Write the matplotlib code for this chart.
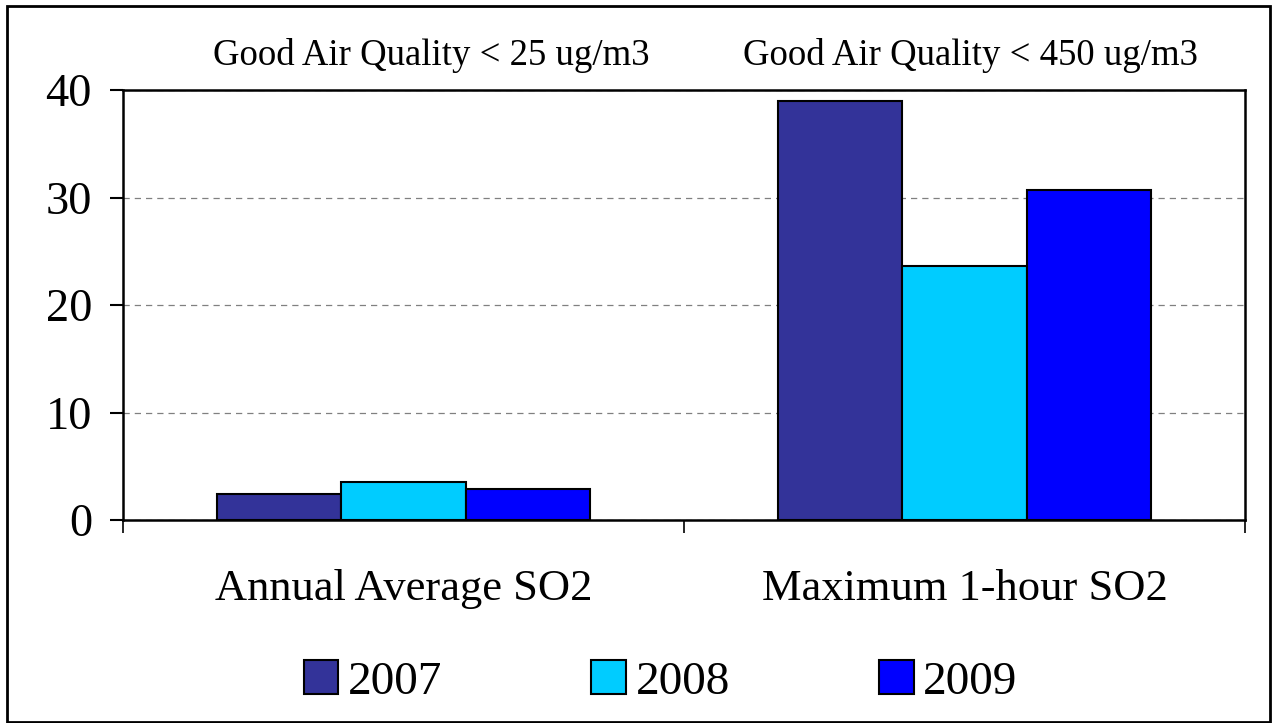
import numpy as np
import matplotlib
matplotlib.use('Agg')
import matplotlib.pyplot as plt
from matplotlib.patches import Rectangle

# donnees SO2
categories = ['Annual Average SO2', 'Maximum 1-hour SO2']
years = ['2007', '2008', '2009']
values_2007 = [2.4, 39.0]
values_2008 = [3.5, 23.6]
values_2009 = [2.85, 30.7]
limits = ['Good Air Quality < 25 ug/m3', 'Good Air Quality < 450 ug/m3']
colors = ['#333399', '#00CCFF', '#0000FF']

plt.rcParams['font.family'] = ['Liberation Serif', 'DejaVu Serif']

fig = plt.figure(figsize=(12.8, 7.23), dpi=100)
ax = fig.add_axes([123/1280, 1-520/723, (1245-123)/1280, (520-90)/723])

x = np.arange(len(categories))
w = 0.222
series = [values_2007, values_2008, values_2009]
for i, (vals, c, lab) in enumerate(zip(series, colors, years)):
    ax.bar(x + (i-1)*w, vals, width=w, color=c, edgecolor='black', linewidth=1.5, label=lab, zorder=3)

ax.set_xlim(-0.5, 1.5)
ax.set_ylim(0, 40)
ax.set_yticks([0, 10, 20, 30, 40])
ax.tick_params(axis='y', labelsize=33.5, length=9.4, width=1.5, direction='out', pad=13)
ax.set_xticks([-0.5, 0.5, 1.5])
ax.set_xticklabels(['', '', ''])
ax.tick_params(axis='x', length=9.4, width=1.2, direction='out')
for i, cat in enumerate(categories):
    ax.text(i, -6.4, cat, ha='center', va='center', fontsize=32, clip_on=False)
# les annotations sont un peu decalees par rapport au centre des categories
for xpos, t in zip([0.05, 1.01], limits):
    ax.text(xpos, 43.2, t, ha='center', va='center', fontsize=26.5, clip_on=False)

for s in ax.spines.values():
    s.set_linewidth(1.8)
ax.yaxis.grid(True, linestyle=(0, (5, 4)), color='#808080', linewidth=0.9, zorder=0)

ax.legend(loc='center', bbox_to_anchor=(0.479, -0.377), ncol=3, frameon=False, fontsize=34,
          handlelength=0.74, handleheight=0.72, handletextpad=0.2, columnspacing=3.15)

fig.add_artist(Rectangle((7/1280, 1-722/723), (1270-7)/1280, (722-6)/723, transform=fig.transFigure,
                         fill=False, edgecolor='black', linewidth=2))

fig.savefig('out.png', dpi=100)
